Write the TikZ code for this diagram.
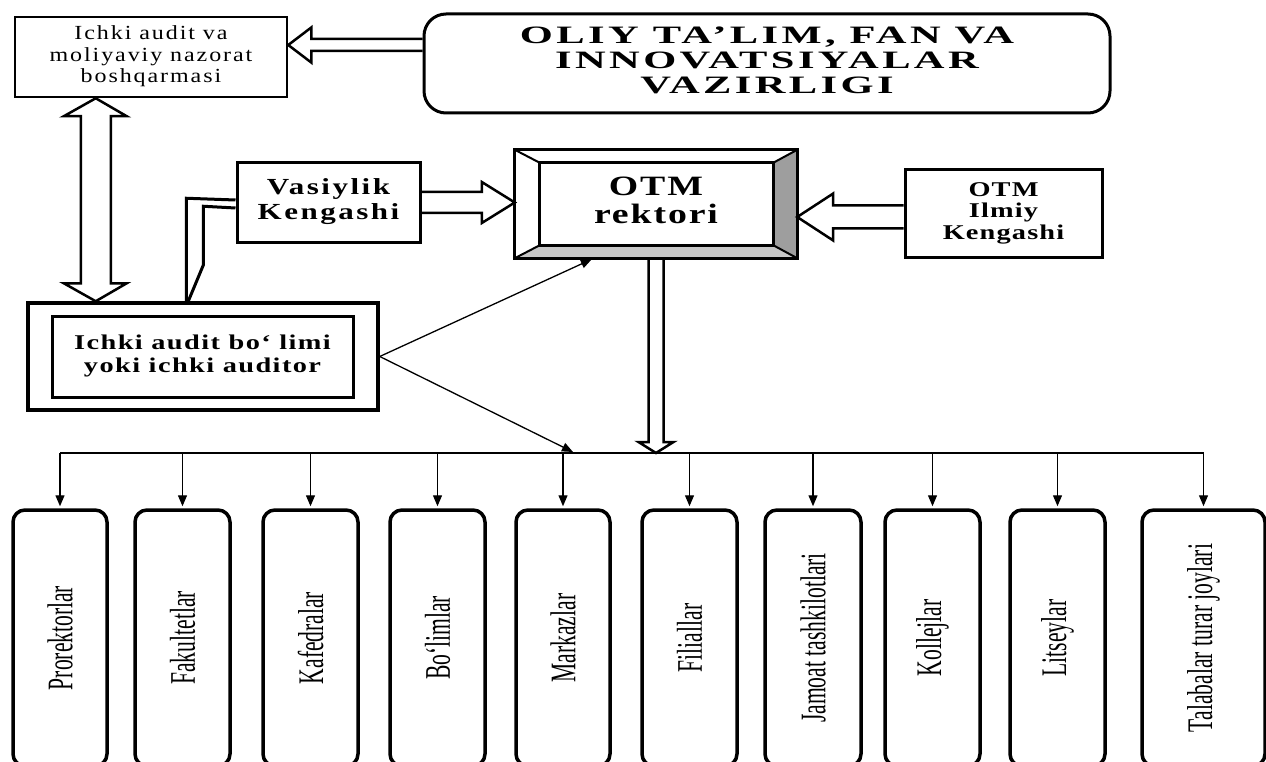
\documentclass[tikz,border=0pt]{standalone}
\usepackage{fontspec}
\setmainfont{Liberation Serif}
\usetikzlibrary{arrows.meta,calc}
\newcommand{\stk}[2]{\scalebox{#1}[1]{\begin{tabular}{@{}c@{}}#2\end{tabular}}}
\begin{document}
\begin{tikzpicture}[x=1pt,y=-1pt,
  box/.style={draw,line width=3pt,inner sep=0pt,fill=white},
  hol/.style={draw,line width=2.5pt,line join=miter},
  thinarr/.style={line width=1.3pt,-{Triangle[length=11pt,width=9pt]}},
  low/.style={draw,line width=3.5pt,rounded corners=12pt,inner sep=0pt,minimum height=256pt},
  vtxt/.style={rotate=90,inner sep=0pt}
]
\useasboundingbox (0,0) rectangle (1266,762);
\clip (0,0) rectangle (1266,762);
\fill[white] (0,0) rectangle (1266,762);

% top boxes
\node[box,line width=2.5pt,minimum width=272pt,minimum height=80pt] (b1) at (151,57)
  {\fontsize{20}{21.5}\selectfont\addfontfeatures{LetterSpace=8}\stk{1.2}{Ichki audit va\\moliyaviy nazorat\\boshqarmasi}};
\node[box,rounded corners=22pt,minimum width=686pt,minimum height=99pt] (oliy) at (767,63.5)
  {\fontsize{25}{25}\selectfont\bfseries\addfontfeatures{LetterSpace=8}\stk{1.7}{OLIY TA’LIM, FAN VA\\INNOVATSIYALAR\\VAZIRLIGI}};
\node[box,minimum width=183pt,minimum height=79pt] (V) at (328.5,202.5)
  {\fontsize{23}{25}\selectfont\bfseries\addfontfeatures{LetterSpace=8}\stk{1.35}{Vasiylik\\Kengashi}};
\node[box,minimum width=197pt,minimum height=87pt] (I) at (1003.5,213.5)
  {\fontsize{21}{21.5}\selectfont\bfseries\addfontfeatures{LetterSpace=4}\stk{1.35}{OTM\\Ilmiy\\Kengashi}};

% rector bevel box
\node[inner sep=0pt,minimum width=282pt,minimum height=108pt] (rek) at (656,204)
  {\fontsize{28}{28}\selectfont\bfseries\addfontfeatures{LetterSpace=5}\stk{1.35}{OTM\\rektori}};
\coordinate (r1) at ($(rek.north west)+(25,13)$);
\coordinate (r2) at ($(rek.north east)+(-24,13)$);
\coordinate (r3) at ($(rek.south east)+(-24,-13)$);
\coordinate (r4) at ($(rek.south west)+(25,-13)$);
\fill[black!38] (rek.north east) -- (rek.south east) -- (r3) -- (r2) -- cycle;
\fill[black!22] (rek.south west) -- (rek.south east) -- (r3) -- (r4) -- cycle;
\draw[line width=2pt] (rek.north west) -- (r1) (rek.north east) -- (r2) (rek.south east) -- (r3) (rek.south west) -- (r4);
\draw[line width=3pt] (rek.north west) rectangle (rek.south east);
\draw[line width=3pt] (r1) rectangle (r3);

% internal audit box
\node[draw,line width=3.5pt,minimum width=350pt,minimum height=107pt,inner sep=0pt] (aud) at (203,356.5) {};
\node[draw,line width=3pt,minimum width=301pt,minimum height=81pt,inner sep=0pt] (audi) at (202.5,356.5)
  {\fontsize{21}{23}\selectfont\bfseries\addfontfeatures{LetterSpace=5}\stk{1.35}{Ichki audit bo‘ limi\\yoki ichki auditor}};

% bottom boxes
\coordinate (bus) at (0,453);
\foreach \n/\x/\w/\t in {1/60/94/Prorektorlar,2/182.5/95/Fakultetlar,3/310.5/95/Kafedralar,4/437.5/95/Bo‘limlar,5/563/94/Markazlar,6/689.5/95/Filiallar,7/813/96/Jamoat tashkilotlari,8/932.5/95/Kollejlar,9/1057.5/95/Litseylar,10/1203.5/123/Talabalar turar joylari}{
  \node[low,minimum width=\w pt] (p\n) at (\x,638) {};
  \node[vtxt] (t\n) at (p\n) {\fontsize{36}{36}\selectfont\scalebox{0.6}[1]{\t}};
  \draw[thinarr,shorten >=2pt] (p\n.north |- bus) -- (p\n.north);
}
\draw[line width=1.3pt] (p1.north |- bus) -- (p10.north |- bus);

% hollow arrow OLIY -> b1
\coordinate (t1) at ($(b1.east)+(0,-12)$);
\coordinate (s1) at (oliy.west |- t1);
\draw[hol] ($(s1)+(0,-6)$) -- ($(t1)+(23,-6)$) -- ($(t1)+(23,-17.5)$) -- (t1) -- ($(t1)+(23,17.5)$) -- ($(t1)+(23,6)$) -- ($(s1)+(0,6)$);

% double vertical arrow b1 <-> aud
\coordinate (da) at ($(b1.south west)+(82,0)$);
\coordinate (db) at (da |- aud.north);
\draw[hol] (da) -- ++(31,18) -- ++(-16,0) -- ($(db)+(15,-18)$) -- ++(16,0) -- (db) -- ++(-32,-18) -- ++(17,0) -- ($(da)+(-15,18)$) -- ++(-17,0) -- cycle;

% Vasiylik -> rektor
\coordinate (tV) at (rek.west |- V.east);
\draw[hol] ($(V.east)+(0,-10.5)$) -- ($(tV)+(-33,-10.5)$) -- ($(tV)+(-33,-20.5)$) -- (tV) -- ($(tV)+(-33,20.5)$) -- ($(tV)+(-33,10.5)$) -- ($(V.east)+(0,10.5)$);

% Ilmiy -> rektor
\coordinate (tI) at ($(rek.east)+(0,13)$);
\coordinate (sI) at (I.west |- tI);
\draw[hol] ($(sI)+(0,-11.5)$) -- ($(tI)+(36,-11.5)$) -- ($(tI)+(36,-23.5)$) -- (tI) -- ($(tI)+(36,23.5)$) -- ($(tI)+(36,11.5)$) -- ($(sI)+(0,11.5)$);

% rektor -> bus
\coordinate (tR) at (rek.south |- bus);
\draw[hol] ($(rek.south)+(-7.5,0)$) -- ($(tR)+(-7.5,-11)$) -- ($(tR)+(-17.5,-11)$) -- (tR) -- ($(tR)+(17.5,-11)$) -- ($(tR)+(7.5,-11)$) -- ($(rek.south)+(7.5,0)$);

% Vasiylik -> audit double line
\coordinate (aj) at ($(aud.north west)+(162,0)$);
\draw[line width=3pt,line join=miter] ($(V.west)+(0,-2.5)$) -- ($(aj)+(-2,-103)$) -- ($(aj)+(-2,0)$);
\draw[line width=3pt,line join=miter] ($(V.west)+(0,5.5)$) -- ($(aj)+(15,-95)$) -- ($(aj)+(15,-36)$) -- (aj);

% thin arrows from audit
\coordinate (rb) at ($(rek.south west)+(77,1)$);
\coordinate (bt) at ($(bus)+(573,-1)$);
\draw[thinarr] (aud.east) -- (rb);
\draw[thinarr] (aud.east) -- (bt);
\end{tikzpicture}
\end{document}
